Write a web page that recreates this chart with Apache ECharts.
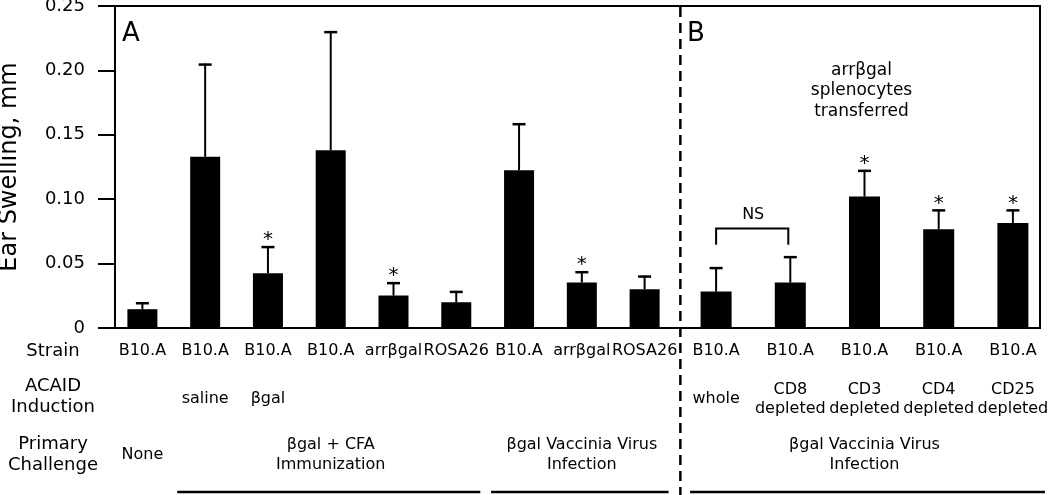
<!DOCTYPE html>
<html>
<head>
<meta charset="utf-8">
<script src="https://cdn.jsdelivr.net/npm/echarts@6/dist/echarts.min.js"></script>
<style>
html,body{margin:0;padding:0;background:#fff;}
#chart{width:1050px;height:495px;}
</style>
</head>
<body>
<div id="chart"></div>
<script>
// ---------- data ----------
const yTicks = [0, 0.05, 0.10, 0.15, 0.20, 0.25];

const strainA = ['B10.A','B10.A','B10.A','B10.A','arrβgal','ROSA26','B10.A','arrβgal','ROSA26'];
const inductionA = ['','saline','βgal','','','','','',''];
const challengeA = ['None','','','βgal + CFA\nImmunization','','','','βgal Vaccinia Virus\nInfection',''];
const valuesA = [0.0146, 0.133, 0.0426, 0.138, 0.0252, 0.020, 0.1225, 0.0353, 0.0301];
const errorsA = [0.0054, 0.0723, 0.0210, 0.0925, 0.0104, 0.0088, 0.0365, 0.0088, 0.0106];
const sigA    = [0, 0, 1, 0, 1, 0, 0, 1, 0];

const strainB = ['B10.A','B10.A','B10.A','B10.A','B10.A'];
const inductionB = ['whole','CD8\ndepleted','CD3\ndepleted','CD4\ndepleted','CD25\ndepleted'];
const challengeB = ['','','βgal Vaccinia Virus\nInfection','',''];
const valuesB = [0.0283, 0.0353, 0.1020, 0.0766, 0.0815];
const errorsB = [0.0190, 0.0205, 0.0208, 0.0155, 0.0106];
const sigB    = [0, 0, 1, 1, 1];

const nsBracketB = [[0, 1, 0.0773, 0.0646, 'NS']];   // from cat, to cat, top, leg bottom, text
const rowTitles = ['Strain', 'ACAID\nInduction', 'Primary\nChallenge'];
const groupSpansA = [[1, 5], [6, 8]];
const groupSpansB = [[0, 4]];
const panelBNote = 'arrβgal\nsplenocytes\ntransferred';

// ---------- chart ----------
const FONT = 'DejaVu Sans';
const chart = echarts.init(document.getElementById('chart'), null, {renderer: 'canvas'});

function errItem(params, api) {
  const i = api.value(0), v = api.value(1), e = api.value(2), s = api.value(3);
  const base = api.coord([i, v]);
  const top = api.coord([i, v + e]);
  const children = [
    {type: 'line', shape: {x1: base[0], y1: base[1], x2: top[0], y2: top[1]}, style: {stroke: '#000', lineWidth: 2}},
    {type: 'line', shape: {x1: top[0] - 6.5, y1: top[1] + 1, x2: top[0] + 6.5, y2: top[1] + 1}, style: {stroke: '#000', lineWidth: 2.5}}
  ];
  if (s) {
    children.push({type: 'text', x: top[0], y: top[1] - 6,
      style: {text: '*', fontSize: 20, fontFamily: FONT, fill: '#000', align: 'center', verticalAlign: 'middle'}});
  }
  return {type: 'group', children};
}

function bracketItem(params, api) {
  const a = api.value(0), b = api.value(1), t = api.value(2), l = api.value(3);
  const p1 = api.coord([a, t]), p2 = api.coord([b, t]);
  const q1 = api.coord([a, l]), q2 = api.coord([b, l]);
  return {type: 'group', children: [
    {type: 'polyline', shape: {points: [[q1[0], q1[1]], [p1[0], p1[1]], [p2[0] - 2, p2[1]], [q2[0] - 2, q2[1]]]},
      style: {stroke: '#000', lineWidth: 2, fill: null}},
    {type: 'text', x: (p1[0] + p2[0]) / 2, y: p1[1] - 14,
      style: {text: nsBracketB[params.dataIndex][4], fontSize: 16, fontFamily: FONT, fill: '#000', align: 'center', verticalAlign: 'middle'}}
  ]};
}

function rowAxis(gridIndex, data, offset, lh) {
  return {
    type: 'category', gridIndex, data, position: 'bottom', offset,
    axisLine: {show: false}, axisTick: {show: false},
    axisLabel: {interval: 0, margin: 0, fontSize: 16, fontFamily: FONT, color: '#000',
      verticalAlign: 'middle', lineHeight: lh}
  };
}

const hiddenY = (gi) => ({type: 'value', gridIndex: gi, min: 0, max: 0.25, show: false});

const option = {
  backgroundColor: '#fff',
  animation: false,
  grid: [
    {left: 115, right: 10, top: 6, height: 322, show: true, borderColor: '#000', borderWidth: 2,
      backgroundColor: 'transparent', outerBoundsMode: 'none', containLabel: false},
    {left: 111, width: 565, top: 6, height: 322, outerBoundsMode: 'none', containLabel: false},
    {left: 679, width: 371, top: 6, height: 322, outerBoundsMode: 'none', containLabel: false}
  ],
  xAxis: [
    {type: 'value', gridIndex: 0, min: 0, max: 1, show: false},
    rowAxis(1, strainA, 23, 19),
    rowAxis(1, inductionA, 71, 19),
    rowAxis(1, challengeA, 127, 20),
    rowAxis(2, strainB, 23, 19),
    rowAxis(2, inductionB, 71, 19),
    rowAxis(2, challengeB, 127, 20)
  ],
  yAxis: [
    {
      type: 'value', gridIndex: 0, min: yTicks[0], max: yTicks[yTicks.length - 1], interval: 0.05,
      name: 'Ear Swelling, mm', nameLocation: 'middle', nameGap: 93,
      nameTextStyle: {fontSize: 24, fontFamily: FONT, color: '#000'},
      axisLine: {show: true, lineStyle: {color: '#000', width: 2}},
      axisTick: {show: true, length: 17, lineStyle: {color: '#000', width: 2}},
      axisLabel: {margin: 30, fontSize: 18, fontFamily: FONT, color: '#000',
        formatter: v => (v === 0 ? '0' : v.toFixed(2))},
      splitLine: {show: false}
    },
    hiddenY(1),
    hiddenY(2)
  ],
  series: [
    {type: 'bar', xAxisIndex: 1, yAxisIndex: 1, data: valuesA, barWidth: 30, itemStyle: {color: '#000'}},
    {type: 'custom', xAxisIndex: 1, yAxisIndex: 1, renderItem: errItem,
      data: valuesA.map((v, i) => [i, v, errorsA[i], sigA[i]]), z: 5},
    {type: 'bar', xAxisIndex: 4, yAxisIndex: 2, data: valuesB, barWidth: 31, itemStyle: {color: '#000'}},
    {type: 'custom', xAxisIndex: 4, yAxisIndex: 2, renderItem: errItem,
      data: valuesB.map((v, i) => [i, v, errorsB[i], sigB[i]]), z: 5},
    {type: 'custom', xAxisIndex: 4, yAxisIndex: 2, renderItem: bracketItem, data: nsBracketB, z: 5}
  ]
};
chart.setOption(option);

// ---------- decorations ----------
const graphics = [];
const rowY = [351, 397, 455];
rowTitles.forEach((t, k) => {
  graphics.push({type: 'text', x: 53, y: rowY[k],
    style: {text: t, fontSize: 18, fontFamily: FONT, fill: '#000', align: 'center', verticalAlign: 'middle', lineHeight: 21}});
});
graphics.push({type: 'text', x: 122, y: 34,
  style: {text: 'A', fontSize: 26, fontFamily: FONT, fill: '#000', align: 'left', verticalAlign: 'middle'}});
graphics.push({type: 'text', x: 687, y: 34,
  style: {text: 'B', fontSize: 26, fontFamily: FONT, fill: '#000', align: 'left', verticalAlign: 'middle'}});
const noteX = chart.convertToPixel({xAxisIndex: 4}, 2);
graphics.push({type: 'text', x: noteX - 3, y: 91,
  style: {text: panelBNote, fontSize: 17, fontFamily: FONT, fill: '#000', align: 'center', verticalAlign: 'middle', lineHeight: 20.5}});

// panel divider
const divX = (chart.convertToPixel({xAxisIndex: 1}, 8) + chart.convertToPixel({xAxisIndex: 4}, 0)) / 2;
graphics.push({type: 'line', shape: {x1: divX, y1: 7, x2: divX, y2: 495},
  style: {stroke: '#000', lineWidth: 2.5, lineDash: [10, 6]}});

// group underlines
function underline(axisIdx, span, padL, padR) {
  const x1 = chart.convertToPixel({xAxisIndex: axisIdx}, span[0]) - padL;
  const x2 = chart.convertToPixel({xAxisIndex: axisIdx}, span[1]) + padR;
  graphics.push({type: 'line', shape: {x1, y1: 492, x2, y2: 492}, style: {stroke: '#000', lineWidth: 2.5}});
}
groupSpansA.forEach(s => underline(1, s, 28, 24));
groupSpansB.forEach(s => underline(4, s, 26, 32));

chart.setOption({graphic: graphics});
</script>
</body>
</html>
